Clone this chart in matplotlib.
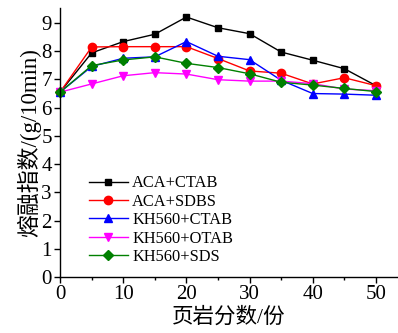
import matplotlib
matplotlib.use("Agg")
import matplotlib.pyplot as plt
from matplotlib.ticker import MultipleLocator

shale_parts = [0, 5, 10, 15, 20, 25, 30, 35, 40, 45, 50]

aca_ctab = [6.55, 7.94, 8.34, 8.60, 9.21, 8.83, 8.62, 7.97, 7.68, 7.38, 6.78]
aca_sdbs = [6.55, 8.15, 8.16, 8.16, 8.16, 7.74, 7.30, 7.22, 6.84, 7.06, 6.78]
kh560_ctab = [6.55, 7.46, 7.75, 7.80, 8.34, 7.82, 7.70, 6.97, 6.50, 6.48, 6.44]
kh560_otab = [6.55, 6.84, 7.13, 7.24, 7.19, 6.99, 6.94, 6.94, 6.85, 6.66, 6.60]
kh560_sds = [6.55, 7.49, 7.69, 7.80, 7.57, 7.42, 7.20, 6.90, 6.80, 6.68, 6.57]

series_labels = ["ACA+CTAB", "ACA+SDBS", "KH560+CTAB", "KH560+OTAB", "KH560+SDS"]
series_values = [aca_ctab, aca_sdbs, kh560_ctab, kh560_otab, kh560_sds]
colors = ["#000000", "#ff0000", "#0000ff", "#ff00ff", "#008000"]
markers = ["s", "o", "^", "v", "D"]
marker_sizes = [5, 6, 6, 6, 5]

x_label = "页岩分数/份"
y_label = "熔融指数/(g/10min)"

serif = ["Liberation Serif", "Noto Sans CJK SC"]

fig = plt.figure(figsize=(3.98, 3.33), dpi=100)
ax = fig.add_axes([0.151, 0.168, 0.849, 0.808])

for vals, lab, c, m, ms in zip(series_values, series_labels, colors, markers, marker_sizes):
    ax.plot(shale_parts, vals, color=c, marker=m, markersize=ms, linewidth=1.0,
            label=lab, clip_on=False)

ax.set_xlim(0, 53.5)
ax.set_ylim(0, 9.53)
ax.xaxis.set_major_locator(MultipleLocator(10))
ax.xaxis.set_minor_locator(MultipleLocator(5))
ax.yaxis.set_major_locator(MultipleLocator(1))

for side in ("top", "right"):
    ax.spines[side].set_visible(False)
for side in ("left", "bottom"):
    ax.spines[side].set_linewidth(1.0)

ax.tick_params(axis="both", which="major", direction="out", length=4, width=1.0, pad=2)
ax.tick_params(axis="x", which="minor", direction="out", length=2.5, width=1.0)

for t in ax.get_xticklabels() + ax.get_yticklabels():
    t.set_family(serif)
    t.set_fontsize(15)

ax.set_xlabel(x_label, family=serif, fontsize=15.5, labelpad=2)
ax.set_ylabel(y_label, family=serif, fontsize=16.5, labelpad=0)

leg = ax.legend(loc="lower left", bbox_to_anchor=(0.065, 0.02), frameon=False,
                prop={"family": serif, "size": 11.8}, handlelength=2.4,
                handletextpad=0.25, labelspacing=0.15, borderaxespad=0)

fig.savefig("out.png", dpi=100)
